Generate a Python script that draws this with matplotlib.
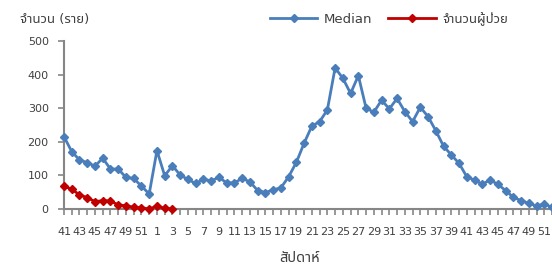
import matplotlib
matplotlib.use("Agg")
import matplotlib.pyplot as plt
from matplotlib.lines import Line2D

plt.rcParams['font.family'] = ['DejaVu Sans', 'Noto Sans Thai']

weeks = list(range(41, 53)) + list(range(1, 53))
median = [215, 171, 146, 138, 128, 151, 119, 119, 94, 91, 68, 45,
          174, 99, 129, 101, 88, 76, 88, 84, 94, 78, 78, 91, 81, 55, 49, 57,
          63, 96, 139, 196, 247, 260, 295, 420, 389, 344, 397, 300, 288, 324,
          298, 329, 290, 260, 303, 275, 233, 187, 161, 136, 96, 86, 74, 86,
          74, 55, 35, 25, 17, 9, 15, 5]
patients = [68, 59, 42, 34, 22, 25, 24, 12, 10, 5, 4, 0, 9, 2, 0]

blue = '#4A7EBB'
red = '#C00000'
grey = '#868686'
txt = '#404040'

fig = plt.figure(figsize=(5.52, 2.66), dpi=100)
ax = fig.add_axes([64/552, 57/266, 1 - 64/552, (209-41)/266])

x = list(range(len(weeks)))
ax.plot(x, median, color=blue, lw=2.0, marker='D', ms=3.8, clip_on=False,
        zorder=3)
ax.plot(x[:len(patients)], patients, color=red, lw=2.0, marker='D', ms=3.8,
        clip_on=False, zorder=4)

ax.set_xlim(0, len(weeks) - 1)
ax.set_ylim(0, 500)
ax.set_yticks([0, 100, 200, 300, 400, 500])
ax.set_xticks(x)
ax.set_xticklabels([str(w) if i % 2 == 0 else '' for i, w in enumerate(weeks)])

for s in ['top', 'right']:
    ax.spines[s].set_visible(False)
for s in ['left', 'bottom']:
    ax.spines[s].set_color(grey)
    ax.spines[s].set_linewidth(1.5)
ax.tick_params(axis='both', colors=grey, labelcolor=txt, labelsize=8,
               length=4, width=1.2)
ax.tick_params(axis='x', pad=9)
ax.tick_params(axis='y', pad=7)

fig.text(20/552, 1 - 19/266, 'จำนวน (ราย)', fontsize=9.5, color=txt,
         va='center', ha='left')
fig.text(300/552, 1 - 257/266, 'สัปดาห์', fontsize=10.5, color=txt,
         va='center', ha='center')

handles = [Line2D([], [], color=blue, lw=2.0, marker='D', ms=3.8),
           Line2D([], [], color=red, lw=2.0, marker='D', ms=3.8)]
leg = fig.legend(handles, ['Median', 'จำนวนผู้ป่วย'], loc='center',
                 bbox_to_anchor=(389/552, 1 - 19/266), ncol=2, frameon=False,
                 fontsize=9.5, handlelength=3.6, columnspacing=1.2,
                 handletextpad=0.5)
for t in leg.get_texts():
    t.set_color(txt)

fig.savefig('out.png', dpi=100)
